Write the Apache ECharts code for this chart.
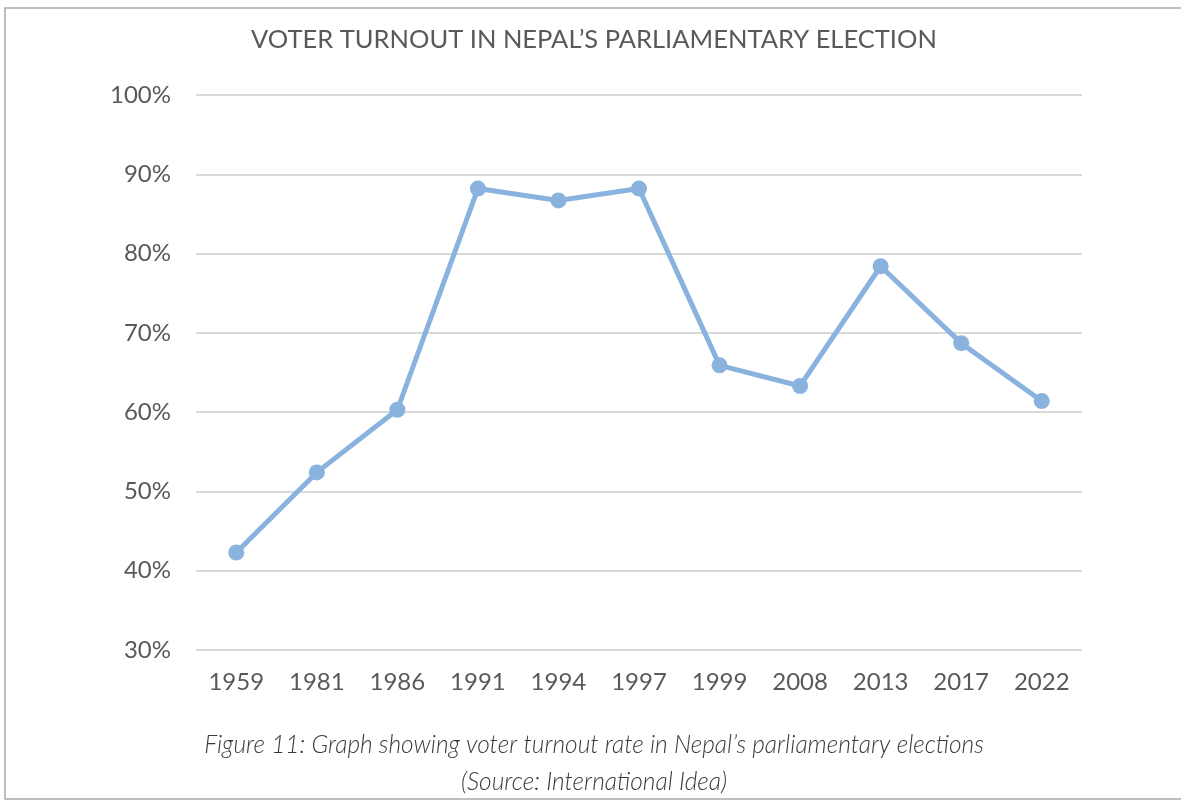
<!DOCTYPE html>
<html>
<head>
<meta charset="utf-8">
<title>Voter turnout in Nepal's parliamentary election</title>
<script src="https://cdn.jsdelivr.net/npm/echarts@6/dist/echarts.min.js"></script>
<style>
  html, body { margin: 0; padding: 0; background: #ffffff; }
  #chart { width: 1181px; height: 802px; }
</style>
</head>
<body>
<div id="chart"></div>
<script>
// Election years and turnout (% of registered voters)
const years = ['1959', '1981', '1986', '1991', '1994', '1997', '1999', '2008', '2013', '2017', '2022'];
const turnout = [42.3, 52.4, 60.3, 88.2, 86.7, 88.2, 65.9, 63.3, 78.4, 68.7, 61.4];
const yTicks = [30, 40, 50, 60, 70, 80, 90, 100];

const titleText = 'VOTER TURNOUT IN NEPAL\u2019S PARLIAMENTARY ELECTION';
const captionLine1 = 'Figure 11: Graph showing voter turnout rate in Nepal\u2019s parliamentary elections';
const captionLine2 = '(Source: International Idea)';

const FONT = 'Lato, "Open Sans", sans-serif';
const TEXT = '#595959';
const CAPTION = '#3a3a3a';
const LINE = '#8AB2DF';

const chart = echarts.init(document.getElementById('chart'), null, { renderer: 'canvas' });

chart.setOption({
  backgroundColor: '#ffffff',
  animation: false,
  textStyle: { fontFamily: FONT },
  graphic: [
    {
      type: 'rect',
      shape: { x: 5, y: 8, width: 1200, height: 791 },
      style: { fill: 'none', stroke: '#ababab', lineWidth: 1.5 },
      silent: true
    },
    {
      type: 'text',
      x: 594,
      y: 40,
      style: {
        text: titleText, fill: TEXT, font: '25.5px ' + FONT,
        align: 'center', verticalAlign: 'middle'
      }
    },
    {
      type: 'text',
      x: 594,
      y: 745,
      style: {
        text: captionLine1, fill: CAPTION, font: 'italic 300 24.5px ' + FONT,
        align: 'center', verticalAlign: 'middle'
      }
    },
    {
      type: 'text',
      x: 594,
      y: 782,
      style: {
        text: captionLine2, fill: CAPTION, font: 'italic 300 24.5px ' + FONT,
        align: 'center', verticalAlign: 'middle'
      }
    }
  ],
  grid: { left: 196, right: 99, top: 95, bottom: 152, containLabel: false },
  xAxis: {
    type: 'category',
    data: years,
    boundaryGap: true,
    axisLine: { show: false },
    axisTick: { show: false },
    axisLabel: { color: TEXT, fontSize: 24, fontFamily: FONT, margin: 20 }
  },
  yAxis: {
    type: 'value',
    min: yTicks[0],
    max: yTicks[yTicks.length - 1],
    interval: 10,
    axisLine: { show: false },
    axisTick: { show: false },
    axisLabel: { color: TEXT, fontSize: 24, fontFamily: FONT, margin: 25, formatter: '{value}%' },
    splitLine: { lineStyle: { color: '#d9d9d9', width: 2 } }
  },
  series: [{
    type: 'line',
    data: turnout,
    symbol: 'circle',
    symbolSize: 16,
    lineStyle: { color: LINE, width: 5 },
    itemStyle: { color: LINE },
    z: 3
  }]
});
</script>
</body>
</html>
